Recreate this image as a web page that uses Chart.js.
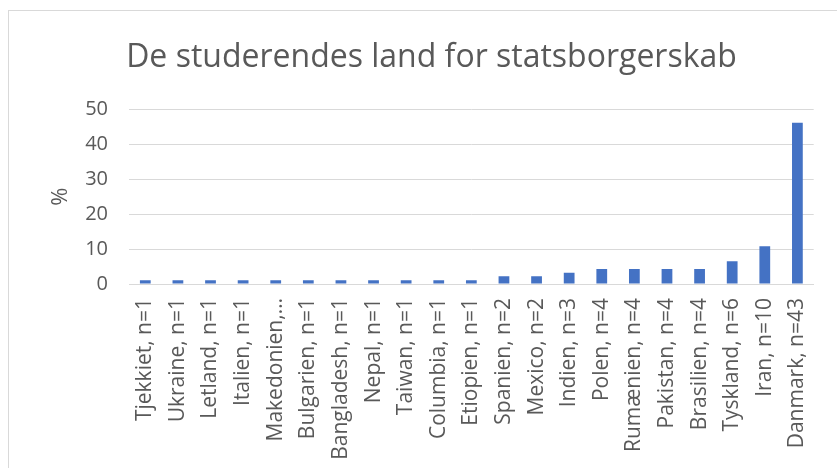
<!DOCTYPE html>
<html>
<head>
<meta charset="utf-8">
<script src="https://cdn.jsdelivr.net/npm/chart.js@4"></script>
<style>
  html, body { margin: 0; padding: 0; background: #fff; }
  #wrap { position: relative; width: 837px; height: 468px; }
  #frame { position: absolute; left: 8px; top: 10px; right: 0; bottom: 0;
           border-left: 1px solid #d9d9d9; border-top: 1px solid #d9d9d9; }
  canvas { position: absolute; left: 0; top: 0; }
</style>
</head>
<body>
<div id="wrap">
  <div id="frame"></div>
  <canvas id="chart" width="837" height="468"></canvas>
</div>
<script>
// Chart data (percent of students by citizenship)
const countries = [
    'Tjekkiet, n=1', 'Ukraine, n=1', 'Letland, n=1', 'Italien, n=1', 'Makedonien,…',
    'Bulgarien, n=1', 'Bangladesh, n=1', 'Nepal, n=1', 'Taiwan, n=1', 'Columbia, n=1',
    'Etiopien, n=1', 'Spanien, n=2', 'Mexico, n=2', 'Indien, n=3', 'Polen, n=4',
    'Rumænien, n=4', 'Pakistan, n=4', 'Brasilien, n=4', 'Tyskland, n=6', 'Iran, n=10',
    'Danmark, n=43'
];
const percent = [
    1.1, 1.1, 1.1, 1.1, 1.1,
    1.1, 1.1, 1.1, 1.1, 1.1,
    1.1, 2.2, 2.2, 3.2, 4.3,
    4.3, 4.3, 4.3, 6.5, 10.8,
    46.2
];
const yTicks = [0, 10, 20, 30, 40, 50];

const textColor = '#595959';
const gridColor = '#d9d9d9';
const fontFamily = '"Open Sans", sans-serif';

document.addEventListener('DOMContentLoaded', function() {
    const ctx = document.getElementById('chart').getContext('2d');

    new Chart(ctx, {
        type: 'bar',
        data: {
            labels: countries,
            datasets: [{
                data: percent,
                backgroundColor: '#4472C4',
                borderWidth: 0,
                barPercentage: 0.33,
                categoryPercentage: 1
            }]
        },
        options: {
            responsive: false,
            animation: false,
            layout: {
                padding: { left: 43, right: 17, top: 0, bottom: 0 }
            },
            plugins: {
                legend: { display: false },
                tooltip: { enabled: false },
                title: {
                    display: true,
                    text: 'De studerendes land for statsborgerskab',
                    color: textColor,
                    font: { family: fontFamily, size: 32, weight: 'normal' },
                    padding: { top: 39, bottom: 32 }
                }
            },
            scales: {
                x: {
                    grid: { display: false, drawTicks: false },
                    border: { display: true, color: gridColor, width: 1 },
                    ticks: {
                        color: textColor,
                        font: { family: fontFamily, size: 21 },
                        maxRotation: 90,
                        minRotation: 90,
                        autoSkip: false,
                        padding: 14
                    },
                    afterFit: function(scale) { scale.height = 184; }
                },
                y: {
                    min: 0,
                    max: 50,
                    afterBuildTicks: function(scale) {
                        scale.ticks = yTicks.map(v => ({ value: v }));
                    },
                    grid: { color: gridColor, lineWidth: 1, drawTicks: false },
                    border: { display: false },
                    ticks: {
                        color: textColor,
                        font: { family: fontFamily, size: 20 },
                        padding: 21
                    },
                    title: {
                        display: true,
                        text: '%',
                        color: textColor,
                        font: { family: fontFamily, size: 22 },
                        padding: { top: 5, bottom: 0 }
                    },
                    afterFit: function(scale) { scale.width = 86; }
                }
            }
        }
    });
});
</script>
</body>
</html>
